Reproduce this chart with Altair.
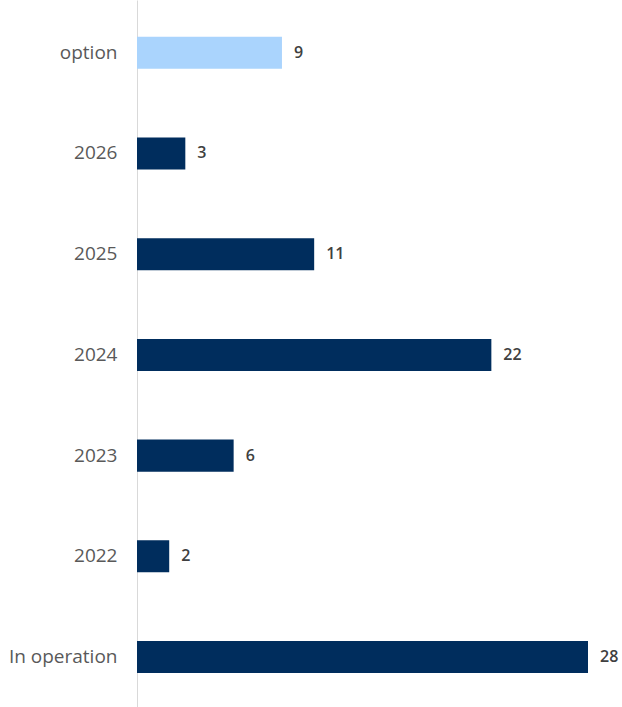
import altair as alt
import pandas as pd

categories = ["option", "2026", "2025", "2024", "2023", "2022", "In operation"]
values = [9, 3, 11, 22, 6, 2, 28]
kinds = ["option", "year", "year", "year", "year", "year", "year"]

df = pd.DataFrame({"cat": categories, "val": values, "kind": kinds})

y = alt.Y("cat:N", sort=categories, title=None,
          scale=alt.Scale(paddingInner=0.682, paddingOuter=0.351, align=0.52),
          axis=alt.Axis(ticks=False, labelPadding=20, labelFontSize=19,
                        labelColor="#595959", labelFont="Open Sans",
                        domainColor="#d9d9d9", domainWidth=1))
x = alt.X("val:Q", scale=alt.Scale(domain=[0, 28], nice=False), axis=None)

bars = alt.Chart(df).mark_bar().encode(
    y=y, x=x,
    color=alt.Color("kind:N", scale=alt.Scale(domain=["option", "year"],
                                              range=["#aad4fd", "#002d5d"]),
                    legend=None),
)
text = alt.Chart(df).mark_text(align="left", dx=12, fontSize=16, fontWeight=600,
                               font="Open Sans", color="#404040").encode(
    y=alt.Y("cat:N", sort=categories), x="val:Q", text="val:Q")

chart = (bars + text).properties(
    width=451, height=707,
    autosize=alt.AutoSizeParams(type="none"),
    padding={"left": 137, "top": 0, "right": 34, "bottom": 0},
).configure_view(stroke=None)

chart.save("out.html", embed_options={"renderer": "svg", "actions": False})
